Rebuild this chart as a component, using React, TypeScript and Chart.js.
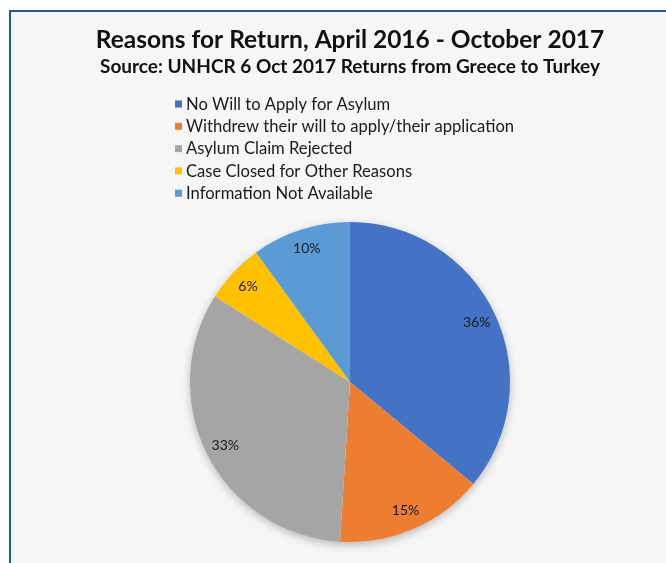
import React, { useEffect, useRef } from "react";
import { Chart, registerables } from "chart.js";

Chart.register(...registerables);

const categories: string[] = [
  "No Will to Apply for Asylum",
  "Withdrew their will to apply/their application",
  "Asylum Claim Rejected",
  "Case Closed for Other Reasons",
  "Information Not Available",
];
const shares: number[] = [36, 15, 33, 6, 10];
const sliceColors: string[] = ["#4472C4", "#ED7D31", "#A5A5A5", "#FFC000", "#5B9BD5"];
const titleText = "Reasons for Return, April 2016 - October 2017";
const subtitleText = "Source: UNHCR 6 Oct 2017 Returns from Greece to Turkey";

const FONT = "Lato, 'Open Sans', sans-serif";
const BG = "#f6f6f6";

const shadowPlugin = {
  id: "pieShadow",
  beforeDatasetsDraw(chart: any) {
    const meta = chart.getDatasetMeta(0);
    if (!meta.data.length) return;
    const arc = meta.data[0];
    const { x, y, outerRadius } = arc.getProps(["x", "y", "outerRadius"], true);
    const ctx = chart.ctx;
    ctx.save();
    ctx.shadowColor = "rgba(0,0,0,0.28)";
    ctx.shadowBlur = 10;
    ctx.shadowOffsetY = 3;
    ctx.fillStyle = BG;
    ctx.beginPath();
    ctx.arc(x, y, outerRadius - 0.5, 0, Math.PI * 2);
    ctx.fill();
    ctx.restore();
  },
};

const labelPlugin = {
  id: "sliceLabels",
  afterDatasetsDraw(chart: any) {
    const meta = chart.getDatasetMeta(0);
    const ctx = chart.ctx;
    ctx.save();
    ctx.font = `14px ${FONT}`;
    ctx.fillStyle = "#1a1a1a";
    ctx.textAlign = "center";
    ctx.textBaseline = "middle";
    meta.data.forEach((arc: any, i: number) => {
      const { x, y, startAngle, endAngle, outerRadius } = arc.getProps(
        ["x", "y", "startAngle", "endAngle", "outerRadius"],
        true
      );
      const mid = (startAngle + endAngle) / 2;
      const r = outerRadius * 0.875;
      ctx.fillText(`${shares[i]}%`, x + Math.cos(mid) * r, y + Math.sin(mid) * r);
    });
    ctx.restore();
  },
};

const legendPlugin = {
  id: "stackedLegend",
  afterDraw(chart: any) {
    const ctx = chart.ctx;
    ctx.save();
    ctx.font = `16.6px ${FONT}`;
    ctx.textBaseline = "middle";
    ctx.textAlign = "left";
    categories.forEach((label, i) => {
      const cy = 104 + i * 22.3;
      ctx.fillStyle = sliceColors[i];
      ctx.fillRect(175, cy - 3.5, 7, 7);
      ctx.fillStyle = "#1a1a1a";
      ctx.fillText(label, 186, cy + 0.5);
    });
    ctx.restore();
  },
};

export default function App() {
  const ref = useRef<HTMLCanvasElement | null>(null);
  useEffect(() => {
    if (!ref.current) return;
    const chart = new Chart(ref.current, {
      type: "pie",
      data: {
        labels: categories,
        datasets: [
          {
            data: shares,
            backgroundColor: sliceColors,
            borderWidth: 0,
          },
        ],
      },
      options: {
        responsive: false,
        animation: false,
        layout: { padding: { top: 0, left: 34, right: 0, bottom: 21 } },
        plugins: {
          legend: { display: false },
          tooltip: { enabled: false },
          title: {
            display: true,
            text: titleText,
            color: "#111",
            font: { family: FONT, size: 24.5, weight: "bold", lineHeight: 1 },
            padding: { top: 27.75, bottom: 0 },
          },
          subtitle: {
            display: true,
            text: subtitleText,
            color: "#111",
            font: { family: FONT, size: 19, weight: "bold", lineHeight: 1 },
            padding: { top: 5.25, bottom: 145.5 },
          },
        },
      },
      plugins: [shadowPlugin, labelPlugin, legendPlugin],
    });
    return () => chart.destroy();
  }, []);

  return (
    <div style={{ position: "absolute", left: 0, top: 0, width: 666, height: 563, background: "#fff", overflow: "hidden" }}>
      <div
        style={{
          position: "absolute",
          left: 9,
          top: 10,
          width: 700,
          height: 600,
          borderLeft: "2px solid #1f5a8c",
          borderTop: "2px solid #1f5a8c",
          background: BG,
        }}
      />
      <canvas ref={ref} width={666} height={563} style={{ position: "absolute", left: 0, top: 0, width: 666, height: 563 }} />
    </div>
  );
}
